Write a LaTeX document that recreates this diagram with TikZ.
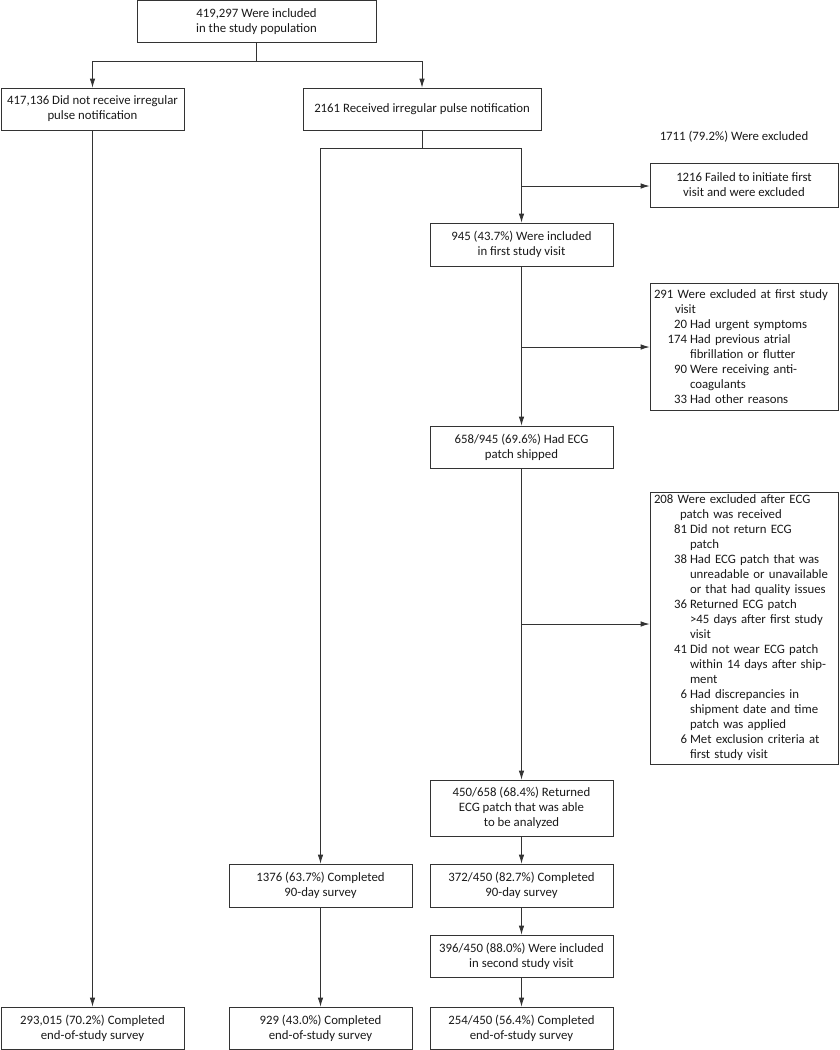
\documentclass[tikz,border=0pt]{standalone}
\usepackage{fontspec}
\setmainfont{Carlito}
\usetikzlibrary{arrows.meta}

\newcommand{\exhead}[2]{\hangindent=#1\hangafter=1\noindent #2}
\newcommand{\exitem}[2]{\par\hangindent=36pt\hangafter=1\noindent\makebox[33pt][r]{#1}\hspace{3pt}#2}

\begin{document}
\begin{tikzpicture}
  [x=1pt,y=-1pt,
   font=\fontsize{12.8}{15}\selectfont,
   box/.style={draw=black!80,line width=0.8pt,align=center,inner sep=2pt,text=black!90},
   wbox/.style={box,minimum width=183pt,minimum height=42pt},
   exbox/.style={box,align=left,text width=180pt,inner xsep=4pt,inner ysep=3pt},
   arr/.style={draw=black!80,line width=0.8pt,-{Latex[length=9pt,width=5.5pt]}},
   ln/.style={draw=black!80,line width=0.8pt}]
  \useasboundingbox (0,0) rectangle (839,1050);

  \node[box,minimum width=239pt,minimum height=42.5pt] (top) at (256.5,21.5) {419,297 Were included\\in the study population};
  \node[wbox] (nonotif) at (92.5,109) {417,136 Did not receive irregular\\pulse notification};
  \node[box,minimum width=238pt,minimum height=42pt] (notif) at (422,109) {2161 Received irregular pulse notification};

  \node[text=black!90] (exlabel) at (734,137) {1711 (79.2\%) Were excluded};
  \node[box,minimum width=188pt,minimum height=44pt] (fail) at (744,185) {1216 Failed to initiate first\\visit and were excluded};

  \node[wbox,minimum height=43pt] (first) at (521.5,244.5) {945 (43.7\%) Were included\\in first study visit};
  \node[exbox,minimum height=127pt] (excl1) at (744,346.5) {%
    \exhead{21pt}{291 Were excluded at first study\newline visit}
    \exitem{20}{Had urgent symptoms}
    \exitem{174}{Had previous atrial\newline fibrillation or flutter}
    \exitem{90}{Were receiving anti-\newline coagulants}
    \exitem{33}{Had other reasons}\par};

  \node[wbox] (shipped) at (521.5,447) {658/945 (69.6\%) Had ECG\\patch shipped};
  \node[exbox,minimum height=270pt] (excl2) at (744,628) {%
    \exhead{26pt}{208 Were excluded after ECG\newline patch was received}
    \exitem{81}{Did not return ECG\newline patch}
    \exitem{38}{Had ECG patch that was\newline unreadable or unavailable\newline or that had quality issues}
    \exitem{36}{Returned ECG patch\newline >45 days after first study\newline visit}
    \exitem{41}{Did not wear ECG patch\newline within 14 days after ship-\newline ment}
    \exitem{6}{Had discrepancies in\newline shipment date and time\newline patch was applied}
    \exitem{6}{Met exclusion criteria at\newline first study visit}\par};

  \node[wbox,minimum height=56pt] (analyzed) at (521.5,808) {450/658 (68.4\%) Returned\\ECG patch that was able\\to be analyzed};
  \node[wbox,minimum height=43pt] (survA) at (320.5,885.5) {1376 (63.7\%) Completed\\90-day survey};
  \node[wbox,minimum height=43pt] (survB) at (521.5,885.5) {372/450 (82.7\%) Completed\\90-day survey};
  \node[wbox] (second) at (521.5,956) {396/450 (88.0\%) Were included\\in second study visit};

  \node[wbox] (endA) at (92.5,1028) {293,015 (70.2\%) Completed\\end-of-study survey};
  \node[wbox] (endB) at (320.5,1028) {929 (43.0\%) Completed\\end-of-study survey};
  \node[wbox] (endC) at (521.5,1028) {254/450 (56.4\%) Completed\\end-of-study survey};

  % splits
  \coordinate (j1) at (256.5,61);
  \coordinate (j2) at (422,148);
  \coordinate (b1) at (521.5,186);
  \coordinate (b2) at (521.5,347);
  \coordinate (b3) at (521.5,624);

  \draw[ln] (top) -- (j1);
  \draw[arr] (j1) -| (nonotif);
  \draw[arr] (j1) -| (notif);
  \draw[ln] (notif) -- (j2);
  \draw[arr] (j2) -| (survA);
  \draw[arr] (j2) -| (first);
  \draw[arr] (b1) -- (b1 -| fail.west);
  \draw[arr] (first) -- (shipped);
  \draw[arr] (b2) -- (b2 -| excl1.west);
  \draw[arr] (shipped) -- (analyzed);
  \draw[arr] (b3) -- (b3 -| excl2.west);

  \foreach \from/\to in {analyzed/survB,survB/second,second/endC,survA/endB,nonotif/endA}
    \draw[arr] (\from) -- (\to);

\end{tikzpicture}
\end{document}
